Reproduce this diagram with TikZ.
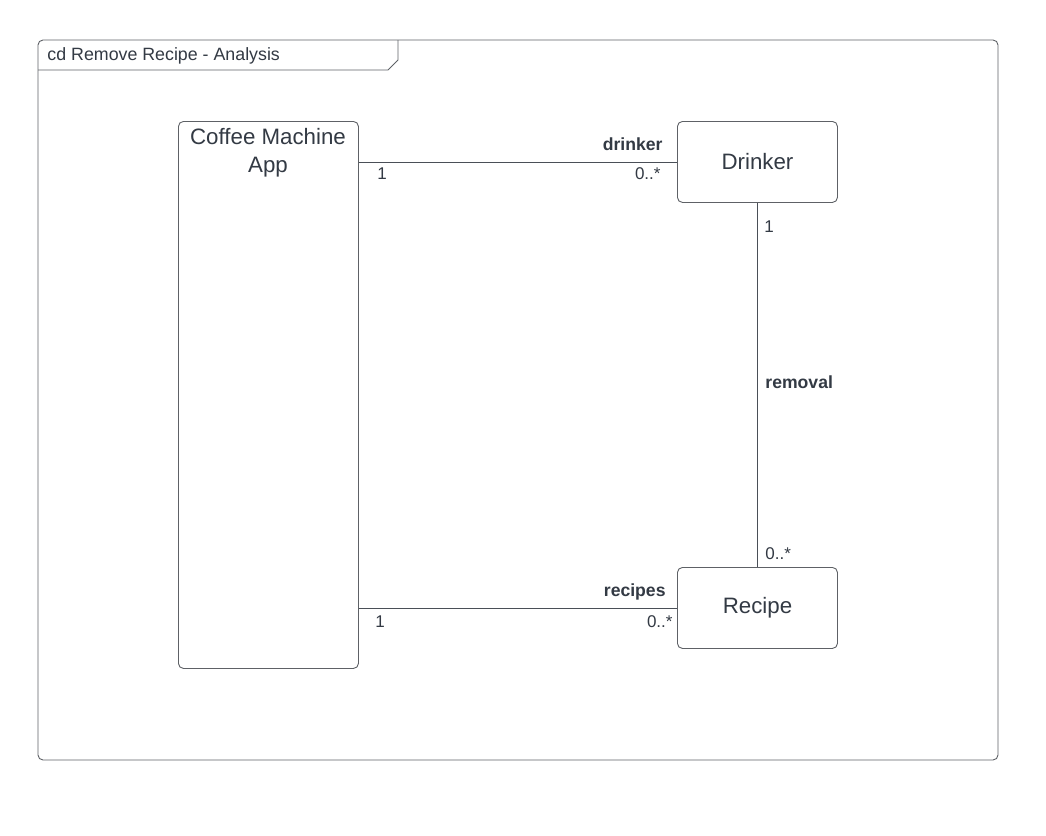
\documentclass[tikz,border=0pt]{standalone}
\usepackage{fontspec}
\setmainfont{Liberation Sans}
\begin{document}
\begin{tikzpicture}[x=1pt,y=-1pt,
  line width=0.9pt,
  cls/.style={draw=boxc, rounded corners=5pt, fill=white, inner sep=0pt},
  lbl/.style={inner sep=0pt, text=textc, font=\fontsize{17.6}{20}\selectfont\bfseries},
  mult/.style={inner sep=0pt, text=textc, font=\fontsize{17}{20}\selectfont},
  assoc/.style={draw=linec, line width=0.9pt}]
\definecolor{textc}{HTML}{333A44}
\definecolor{boxc}{HTML}{5E6166}
\definecolor{linec}{HTML}{4A4F57}
\useasboundingbox (0,0) rectangle (1046,835);
\fill[white] (0,0) rectangle (1046,835);
% frame
\draw[boxc, rounded corners=5pt] (38,40) rectangle (998,760);
\draw[boxc] (38,70) -- (388,70) -- (398,60) -- (398,40);
\node[anchor=base west, inner sep=0pt, text=textc, font=\fontsize{17.8}{20}\selectfont] (title) at (47,60) {cd Remove Recipe - Analysis};
% classes
\node[cls, minimum width=180pt, minimum height=547pt, anchor=north west] (cma) at (178,121) {};
\node[anchor=north, align=center, inner sep=0pt, text=textc, font=\fontsize{22.3}{28}\selectfont] (cmat) at (268,128) {Coffee Machine\\App};
\node[cls, minimum width=160pt, minimum height=81pt, anchor=north west, text=textc, font=\fontsize{22.3}{25}\selectfont] (drk) at (677,121) {Drinker};
\node[cls, minimum width=160pt, minimum height=81pt, anchor=north west, text=textc, font=\fontsize{22.3}{25}\selectfont] (rcp) at (677,567) {Recipe};
% associations
\draw[assoc] (cma.east |- drk.west) -- (drk.west);
\draw[assoc] (cma.east |- rcp.west) -- (rcp.west);
\draw[assoc] (drk.south) -- (rcp.north);
% labels
\node[lbl, anchor=base east] (l1) at (663,150) {drinker};
\node[mult, anchor=base east] (m1) at (661,179) {0..*};
\node[mult, anchor=base west] (m2) at (377,179) {1};
\node[mult, anchor=base west] (m3) at (764,232) {1};
\node[lbl, anchor=base west] (l2) at (765,388) {removal};
\node[mult, anchor=base west] (m4) at (765,559) {0..*};
\node[lbl, anchor=base east] (l3) at (666,596) {recipes};
\node[mult, anchor=base east] (m5) at (673,627) {0..*};
\node[mult, anchor=base west] (m6) at (375,627) {1};
\end{tikzpicture}
\end{document}
